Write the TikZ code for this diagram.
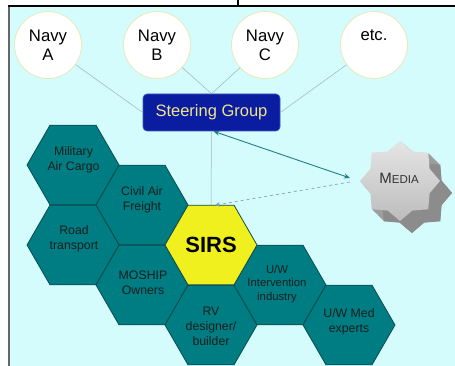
\documentclass[tikz,border=0pt]{standalone}
\usepackage{fontspec}
\setmainfont{Liberation Sans}
\usetikzlibrary{shapes.geometric,arrows.meta}
\definecolor{panel}{RGB}{212,252,252}
\definecolor{hexteal}{RGB}{0,125,130}
\definecolor{hexedge}{RGB}{15,75,80}
\definecolor{hextext}{RGB}{25,30,30}
\definecolor{sirsyel}{RGB}{240,240,30}
\definecolor{steerblue}{RGB}{10,28,160}
\definecolor{steeredge}{RGB}{70,90,190}
\definecolor{steertext}{RGB}{240,228,140}
\definecolor{circedge}{RGB}{232,232,185}
\definecolor{thinline}{RGB}{160,180,180}
\definecolor{arrteal}{RGB}{35,125,135}
\definecolor{dashline}{RGB}{130,170,175}
\definecolor{starlight}{RGB}{222,222,222}
\definecolor{stardark}{RGB}{140,140,140}
\definecolor{mediatxt}{RGB}{50,50,50}
\tikzset{
  hexa/.style={regular polygon, regular polygon sides=6, minimum size=92pt, inner sep=0pt, outer sep=0pt, fill=hexteal, draw=hexedge, line width=0.8pt},
  hextxt/.style={font=\fontsize{12.3}{15}\selectfont, text=hextext, align=center, inner sep=0pt},
  navy/.style={circle, minimum size=67pt, inner sep=0pt, fill=white, draw=circedge, line width=0.8pt, font=\fontsize{16.7}{19}\selectfont, align=center},
  steerbox/.style={rectangle, rounded corners=4pt, minimum width=137pt, minimum height=37pt, fill=steerblue, draw=steeredge, line width=0.6pt, text=steertext, font=\fontsize{16.5}{19}\selectfont},
  mediastar/.style={star, star points=8, star point ratio=1.25, minimum size=80pt, inner sep=0pt, outer sep=0pt},
  thin line/.style={draw=thinline, line width=0.5pt},
  tealarrow/.style={draw=arrteal, line width=0.9pt},
  dashedarrow/.style={draw=dashline, line width=0.7pt, dashed, dash pattern=on 3pt off 3pt},
}
\begin{document}
\begin{tikzpicture}[x=1pt,y=-1pt]
\useasboundingbox (0,0) rectangle (455,366);
% panel
\fill[panel] (9,6) rectangle (460,370);
\draw[gray!80!black, line width=1.6pt] (9,6) -- (9,370);
\draw[black, line width=1.4pt] (8,6) -- (456,6);
\draw[black, line width=1.4pt] (238,0) -- (238,6);

% circles
\node[navy] (navyA) at (48,45) {Navy\\A};
\node[navy] (navyB) at (157,45) {Navy\\B};
\node[navy] (navyC) at (265,45) {Navy\\C};
\node[navy] (etc) at (374,45) {etc.\\\phantom{A}};

% steering group
\node[steerbox] (steer) at (211.5,112.5) {Steering Group};

\draw[thin line] (navyA) -- (steer.west);
\draw[thin line] (navyB) -- (steer.north);
\draw[thin line] (navyC) -- (steer.north);
\draw[thin line] (etc) -- (steer.east);

% hexagons
\node[hexa] (mil) at (73,165) {};
\node[hexa] (civ) at (142,205) {};
\node[hexa] (road) at (73,245) {};
\node[hexa] (mos) at (142,285) {};
\node[hexa] (rv) at (211,325) {};
\node[hexa] (uwi) at (280,285) {};
\node[hexa] (uwm) at (349,325) {};
\node[hexa, fill=sirsyel, font=\bfseries\fontsize{22}{24}\selectfont, text=black] (sirs) at (211,245) {SIRS};

\node[hextxt] (tmil) at (73.5,159.5) {Military\\Air Cargo};
\node[hextxt] (tciv) at (142,199.5) {Civil Air\\Freight};
\node[hextxt] (troad) at (74,238.5) {Road\\transport};
\node[hextxt] (tmos) at (143,283) {MOSHIP\\Owners};
\node[hextxt] (trv) at (211,326) {RV\\designer/\\builder};
\node[hextxt, font=\fontsize{11.3}{13.5}\selectfont] (tuwi) at (277,284) {U/W\\Intervention\\industry};
\node[hextxt] (tuwm) at (349,322) {U/W Med\\experts};

% media star with extrusion
\foreach \d in {1,...,14} {
  \node[mediastar, fill=stardark!85!white, draw=none] (ext\d) at (400+0.85*\d,181+0.85*\d) {};
}
\node[mediastar, fill=stardark, draw=none] (extlast) at (412,193) {};
\node[mediastar, top color=starlight!80!white, bottom color=starlight!85!black, draw=none] (media) at (400,181) {};
\node[text=mediatxt, inner sep=0pt] (mediatext) at (399,178) {{\fontsize{15}{15}\selectfont M}{\fontsize{11.5}{15}\selectfont EDIA}};

% connectors
\draw[thin line] (steer.south) -- (sirs.north);
\draw[tealarrow, {Stealth[length=6pt,width=5pt]}-{Stealth[length=6pt,width=5pt]}] ([xshift=2pt]steer.south) -- ([xshift=-10pt,yshift=3pt]media.west);
\draw[dashedarrow, -{Stealth[length=5pt,width=5pt,fill=arrteal]}] ([xshift=-10pt,yshift=-1pt]media.west) -- ([xshift=4pt]sirs.north);
\end{tikzpicture}
\end{document}
